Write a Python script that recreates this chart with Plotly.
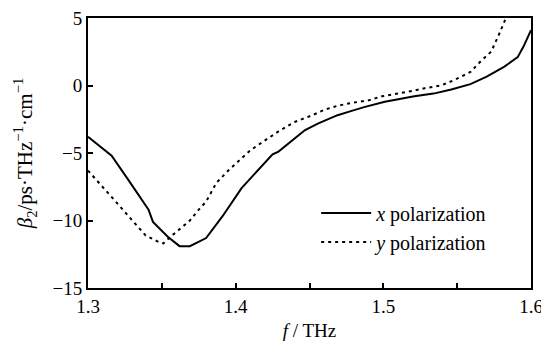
import plotly.graph_objects as go

# x polarization (solid)
fx = [1.300, 1.316, 1.328, 1.341, 1.344, 1.354, 1.362, 1.369, 1.380, 1.391, 1.404, 1.416,
      1.425, 1.429, 1.436, 1.447, 1.456, 1.460, 1.469, 1.478, 1.487, 1.501, 1.510, 1.521,
      1.534, 1.546, 1.559, 1.570, 1.582, 1.591, 1.595, 1.600]
bx = [-3.8, -5.2, -7.1, -9.2, -10.1, -11.2, -11.9, -11.9, -11.3, -9.7, -7.6, -6.2,
      -5.1, -4.9, -4.3, -3.3, -2.8, -2.6, -2.2, -1.9, -1.6, -1.2, -1.0, -0.8,
      -0.6, -0.3, 0.1, 0.65, 1.4, 2.1, 2.9, 4.1]

# y polarization (dashed)
fy = [1.300, 1.310, 1.322, 1.330, 1.339, 1.348, 1.351, 1.357, 1.369, 1.375, 1.380, 1.387,
      1.395, 1.402, 1.410, 1.418, 1.429, 1.440, 1.452, 1.460, 1.469, 1.478, 1.490, 1.499,
      1.510, 1.520, 1.528, 1.539, 1.548, 1.559, 1.566, 1.573, 1.578, 1.583]
by = [-6.3, -7.5, -9.0, -10.0, -11.1, -11.6, -11.7, -11.1, -10.0, -9.2, -8.6, -7.2,
      -6.3, -5.6, -4.8, -4.2, -3.4, -2.7, -2.2, -1.8, -1.5, -1.3, -1.1, -0.8,
      -0.6, -0.4, -0.2, 0.0, 0.4, 1.0, 1.8, 2.5, 3.7, 5.0]

FONT = "Liberation Serif, Times New Roman, serif"

fig = go.Figure()
fig.add_trace(go.Scatter(x=fx, y=bx, mode="lines", name="<i>x</i> polarization",
                         line=dict(color="black", width=2)))
fig.add_trace(go.Scatter(x=fy, y=by, mode="lines", name="<i>y</i> polarization",
                         line=dict(color="black", width=2, dash="3px,4px")))

# page body has an 8px default margin, so the figure is offset by (8, 8);
# keep the page within the window so no scrollbar appears
fig.update_layout(
    width=541, height=333,
    margin=dict(l=80, r=18, t=10, b=53, autoexpand=False),
    paper_bgcolor="white", plot_bgcolor="white",
    font=dict(family=FONT, size=18, color="black"),
    showlegend=True,
    legend=dict(x=0.515, y=0.35, xanchor="left", yanchor="top",
                bgcolor="rgba(0,0,0,0)", font=dict(size=20, family=FONT),
                tracegroupgap=0, itemwidth=50),
)
fig.update_xaxes(
    range=[1.3, 1.6], tickvals=[1.3, 1.4, 1.5, 1.6], ticktext=["1.3", "1.4", "1.5", "1.6"],
    ticks="inside", ticklen=5, tickwidth=1.5, tickcolor="black",
    minor=dict(tickvals=[1.35, 1.45, 1.55], ticks="inside", ticklen=5, tickwidth=1.5, tickcolor="black"),
    showline=True, linecolor="black", linewidth=2, mirror=True,
    showgrid=False, zeroline=False, automargin=False, ticklabeloverflow="allow",
    title=dict(text="<i>f</i> / THz", standoff=12, font=dict(size=19, family=FONT)),
    tickfont=dict(size=19, family=FONT),
)
fig.update_yaxes(
    range=[-15, 5], tickvals=[-15, -10, -5, 0, 5],
    ticks="inside", ticklen=5, tickwidth=1.5, tickcolor="black",
    showline=True, linecolor="black", linewidth=2, mirror=True,
    showgrid=False, zeroline=False, automargin=False, ticklabeloverflow="allow",
    title=dict(text="<i>β</i><sub>2</sub>/ps·THz<sup>−1</sup>·cm<sup>−1</sup>", standoff=14,
               font=dict(size=21, family=FONT)),
    tickfont=dict(size=19, family=FONT),
)

fig.write_html("out.html")
